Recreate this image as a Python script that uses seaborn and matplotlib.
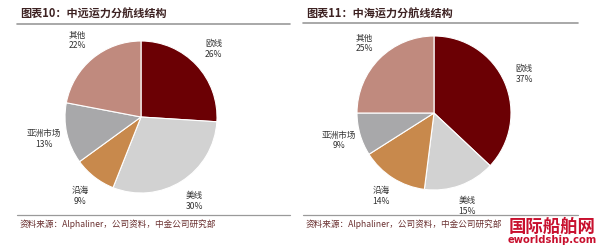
import matplotlib
matplotlib.use("Agg")
import matplotlib.pyplot as plt
import seaborn as sns
import numpy as np
from matplotlib.lines import Line2D

sns.set_theme(style="white")
plt.rcParams['font.family'] = ['Noto Sans CJK SC', 'DejaVu Sans']

categories = ["欧线", "美线", "沿海", "亚洲市场", "其他"]
cosco_values = [26, 30, 9, 13, 22]
cscl_values = [37, 15, 14, 9, 25]
colors = ["#6B0004", "#D2D2D2", "#C8894C", "#A8A8AA", "#C08A7E"]
titles = ["图表10：中远运力分航线结构", "图表11：中海运力分航线结构"]
source = "资料来源：Alphaliner，公司资料，中金公司研究部"

W, H = 600, 245
fig = plt.figure(figsize=(W / 100, H / 100), dpi=100)


def px_axes(cx, cy, r):
    return fig.add_axes([(cx - r) / W, (H - cy - r) / H, 2 * r / W, 2 * r / H])


def draw_pie(ax, values, ldist):
    wedges, _ = ax.pie(values, colors=colors, startangle=90, counterclock=False,
                       radius=1.0, wedgeprops=dict(linewidth=0.8, edgecolor="white"))
    total = sum(values)
    ang = 90.0
    for w, cat, v in zip(wedges, categories, values):
        span = 360.0 * v / total
        mid = np.deg2rad(ang - span / 2)
        ang -= span
        ax.text(ldist * np.cos(mid), ldist * np.sin(mid), f"{cat}\n{v}%",
                ha="center", va="center", fontsize=6.2, color="#333333",
                linespacing=1.25, clip_on=False)
    ax.set_xlim(-1, 1)
    ax.set_ylim(-1, 1)
    ax.set_aspect("equal")
    ax.axis("off")


ax1 = px_axes(141, 117, 76)
draw_pie(ax1, cosco_values, 1.31)
ax2 = px_axes(434, 113, 77)
draw_pie(ax2, cscl_values, 1.28)

# titles, rules, sources
for x0, x1, ty, ly, title in [(17, 290, 14, 24, titles[0]), (303, 578, 14, 23, titles[1])]:
    fig.text(x0 / W + 0.005, 1 - ty / H, title, ha="left", va="center",
             fontsize=8, fontweight="bold", color="#3d2222", style="italic")
    fig.add_artist(Line2D([x0 / W, x1 / W], [1 - ly / H, 1 - ly / H],
                          color="#9a9a9a", linewidth=1.2, transform=fig.transFigure))
    fig.add_artist(Line2D([x0 / W, x1 / W], [1 - 215 / H, 1 - 215 / H],
                          color="#9a9a9a", linewidth=0.9, transform=fig.transFigure))
    fig.text((x0 + 3) / W, 1 - 224 / H, source, ha="left", va="center",
             fontsize=6.2, color="#6a3030", style="italic")

# watermark logo
fig.text(552 / W, 1 - 227 / H, "国际船舶网", ha="center", va="center",
         fontsize=12.5, fontweight="bold", color="#C8102E")
fig.text(552 / W, 1 - 239.5 / H, "eworldship.com", ha="center", va="center",
         fontsize=7.2, fontweight="bold", color="#C8102E", family="DejaVu Sans")

fig.savefig("out.png", dpi=100, facecolor="white")
